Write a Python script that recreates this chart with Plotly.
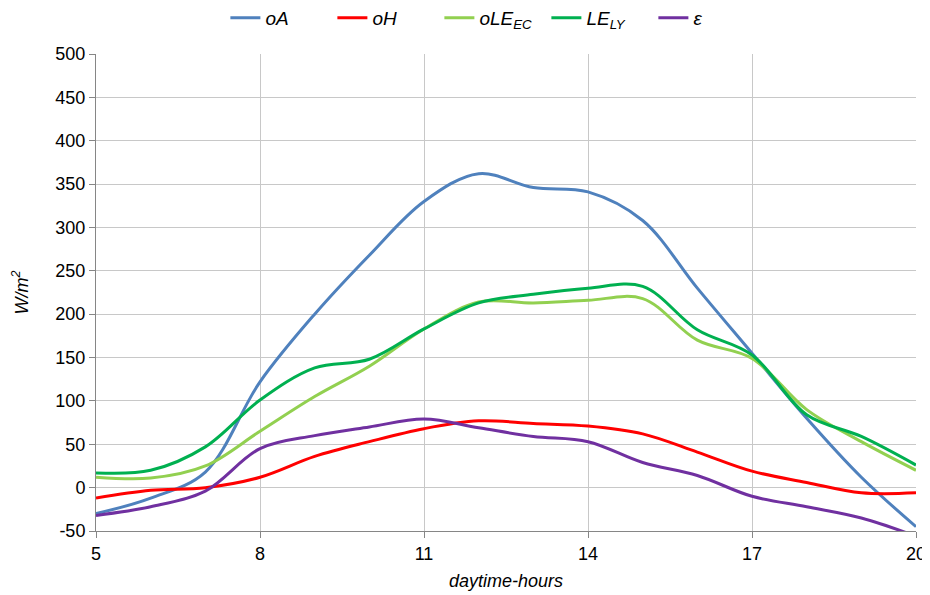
import plotly.graph_objects as go

hours = [5, 6, 7, 8, 9, 10, 11, 12, 13, 14, 15, 16, 17, 18, 19, 20]

oA = [-30, -12, 18, 122, 200, 268, 330, 362, 346, 341, 308, 230, 155, 80, 12, -45]
oH = [-12, -3, 0, 12, 36, 53, 68, 77, 74, 71, 62, 41, 19, 6, -6, -6]
oLE_EC = [12, 11, 25, 65, 105, 140, 183, 214, 213, 216, 218, 170, 149, 90, 53, 20]
LE_LY = [17, 20, 47, 101, 138, 148, 183, 213, 223, 230, 232, 182, 153, 84, 59, 26]
eps = [-32, -22, -4, 45, 60, 70, 79, 69, 59, 53, 29, 14, -10, -22, -35, -56]

x_ticks = [5, 8, 11, 14, 17, 20]
y_ticks = list(range(-50, 501, 50))

series = [
    ("<i>oA</i>", oA, "#4F81BD"),
    ("<i>oH</i>", oH, "#FF0000"),
    ("<i>oLE<sub>EC</sub></i>", oLE_EC, "#92D050"),
    ("<i>LE<sub>LY</sub></i>", LE_LY, "#00B050"),
    ("<i>ε</i>", eps, "#7030A0"),
]

fig = go.Figure()
for name, vals, color in series:
    fig.add_trace(go.Scatter(
        x=hours, y=vals, name=name, mode="lines",
        line=dict(color=color, width=3, shape="spline", smoothing=1.0),
    ))

font_family = "Liberation Sans, Arial, sans-serif"
fig.update_layout(
    width=930, height=587,
    margin=dict(l=88, r=22, t=46, b=64, autoexpand=False),
    paper_bgcolor="white", plot_bgcolor="white",
    font=dict(family=font_family, size=18, color="#000000"),
    showlegend=True,
    legend=dict(
        orientation="h", x=0.484, xanchor="center",
        yref="container", y=0.983, yanchor="middle",
        font=dict(size=19, family=font_family),
        itemwidth=30, entrywidth=62, tracegroupgap=0,
        bgcolor="rgba(0,0,0,0)",
    ),
    xaxis=dict(
        range=[5, 20], tickvals=x_ticks, ticktext=[str(t) for t in x_ticks],
        showgrid=True, gridcolor="#C8C8C8", gridwidth=1,
        showline=True, linecolor="#868686", linewidth=1,
        ticks="outside", ticklen=6, tickcolor="#868686",
        zeroline=False, tickfont=dict(size=18), automargin=False,
        title=dict(text="<i>daytime-hours</i>", font=dict(size=18), standoff=11),
    ),
    yaxis=dict(
        range=[-50, 500], tickvals=y_ticks, ticktext=[str(t) for t in y_ticks],
        showgrid=True, gridcolor="#C8C8C8", gridwidth=1,
        showline=True, linecolor="#868686", linewidth=1,
        ticks="outside", ticklen=6, tickcolor="#868686",
        zeroline=False, tickfont=dict(size=18), automargin=False,
        title=dict(text="<i>W/m<sup>2</sup></i>", font=dict(size=18), standoff=22),
    ),
)

fig.write_html("out.html")
